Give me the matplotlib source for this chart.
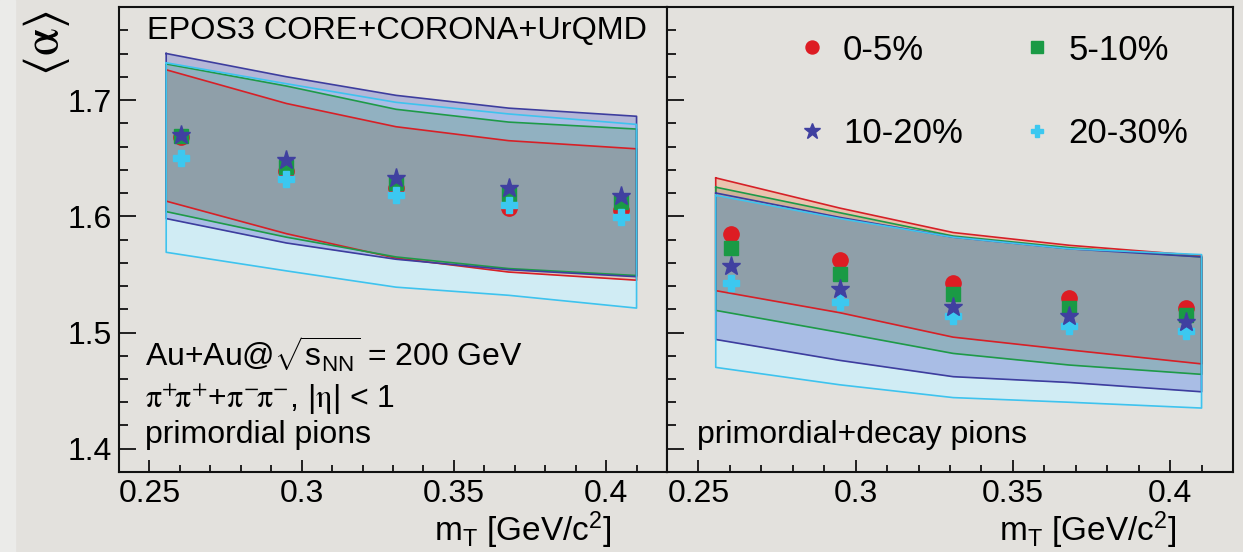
import numpy as np
import matplotlib.pyplot as plt
from matplotlib.lines import Line2D
from matplotlib.patches import Rectangle

plt.rcParams['font.family'] = ['Liberation Sans', 'DejaVu Sans']
plt.rcParams['mathtext.fontset'] = 'custom'
plt.rcParams['mathtext.rm'] = 'Liberation Sans'
plt.rcParams['mathtext.it'] = 'Liberation Sans:italic'

# ---- data ----
mt = [0.2605, 0.295, 0.331, 0.368, 0.405]          # marker positions
mt_band = [0.2555, 0.295, 0.331, 0.368, 0.41]       # band nodes
labels = ['0-5%', '5-10%', '10-20%', '20-30%']

# primordial pions (left)
a_L = {
    '0-5%':   [1.668, 1.639, 1.624, 1.607, 1.605],
    '5-10%':  [1.669, 1.642, 1.629, 1.619, 1.612],
    '10-20%': [1.670, 1.648, 1.633, 1.624, 1.617],
    '20-30%': [1.650, 1.632, 1.618, 1.610, 1.599],
}
up_L = {
    '0-5%':   [1.726, 1.697, 1.677, 1.665, 1.658],
    '5-10%':  [1.731, 1.712, 1.692, 1.681, 1.675],
    '10-20%': [1.740, 1.720, 1.704, 1.693, 1.686],
    '20-30%': [1.732, 1.714, 1.698, 1.688, 1.679],
}
lo_L = {
    '0-5%':   [1.613, 1.585, 1.564, 1.552, 1.545],
    '5-10%':  [1.604, 1.582, 1.565, 1.555, 1.549],
    '10-20%': [1.598, 1.577, 1.563, 1.554, 1.548],
    '20-30%': [1.569, 1.553, 1.539, 1.532, 1.521],
}

# primordial + decay pions (right)
a_R = {
    '0-5%':   [1.585, 1.562, 1.543, 1.530, 1.521],
    '5-10%':  [1.573, 1.550, 1.533, 1.521, 1.515],
    '10-20%': [1.557, 1.537, 1.522, 1.514, 1.509],
    '20-30%': [1.543, 1.526, 1.514, 1.506, 1.501],
}
up_R = {
    '0-5%':   [1.633, 1.607, 1.586, 1.575, 1.566],
    '5-10%':  [1.625, 1.603, 1.583, 1.573, 1.565],
    '10-20%': [1.620, 1.599, 1.582, 1.572, 1.565],
    '20-30%': [1.618, 1.598, 1.582, 1.572, 1.567],
}
lo_R = {
    '0-5%':   [1.536, 1.517, 1.496, 1.485, 1.473],
    '5-10%':  [1.519, 1.500, 1.482, 1.472, 1.464],
    '10-20%': [1.494, 1.476, 1.462, 1.457, 1.449],
    '20-30%': [1.470, 1.455, 1.444, 1.440, 1.435],
}

xticks = [0.25, 0.3, 0.35, 0.4]
xtick_labels = ['0.25', '0.3', '0.35', '0.4']
yticks = [1.4, 1.5, 1.6, 1.7]
ytick_labels = ['1.4', '1.5', '1.6', '1.7']

# ---- styles ----
bg = '#e3e1dd'
line_col = {'0-5%': '#d62027', '5-10%': '#1e9a48', '10-20%': '#3d3d9e', '20-30%': '#3ec3ee'}
fill_col = {'0-5%': (250/255, 140/255, 90/255), '5-10%': (90/255, 150/255, 110/255),
            '10-20%': (111/255, 120/255, 207/255), '20-30%': (200/255, 242/255, 255/255)}
fill_alpha = {'0-5%': 0.35, '5-10%': 0.3, '10-20%': 0.4, '20-30%': 0.7}
mk = {'0-5%': 'o', '5-10%': 's', '10-20%': '*', '20-30%': 'P'}
mk_size = {'0-5%': 11, '5-10%': 10, '10-20%': 14, '20-30%': 11}
mk_col = {'0-5%': '#dd1c23', '5-10%': '#1a9a45', '10-20%': '#4040a0', '20-30%': '#3cc8f0'}
fill_order = ['20-30%', '10-20%', '5-10%', '0-5%']
edge_order = ['0-5%', '5-10%', '10-20%', '20-30%']
marker_order = ['0-5%', '5-10%', '20-30%', '10-20%']

fs = 23
W, H = 1243, 552
fig = plt.figure(figsize=(W/100, H/100), dpi=100, facecolor=bg)
fig.patches.append(Rectangle((0, 0), 15/W, 1, transform=fig.transFigure,
                             color='#ebebe9', zorder=0))
axL = fig.add_axes([119/W, 80/H, 548/W, 465/H])
axR = fig.add_axes([667/W, 80/H, 566/W, 465/H])


def draw_panel(ax, a, up, lo):
    ax.set_facecolor(bg)
    xb = np.array(mt_band)
    for k in fill_order:
        ax.fill_between(xb, lo[k], up[k], color=fill_col[k], alpha=fill_alpha[k], lw=0, zorder=1)
    # region where all four bands overlap
    lo_all = np.max([lo[k] for k in labels], axis=0)
    up_all = np.min([up[k] for k in labels], axis=0)
    ax.fill_between(xb, lo_all, up_all, color='#8f9fa9', lw=0, zorder=2)
    for k in edge_order:
        px = np.concatenate([xb, xb[::-1], xb[:1]])
        py = np.concatenate([up[k], lo[k][::-1], up[k][:1]])
        ax.plot(px, py, color=line_col[k], lw=1.2, zorder=3)
    for k in marker_order:
        ax.plot(mt, a[k], ls='none', marker=mk[k], ms=mk_size[k], color=mk_col[k],
                mec=mk_col[k], zorder=4)

    ax.set_xlim(0.24, 0.42)
    ax.set_ylim(1.38, 1.78)
    ax.set_xticks(xticks)
    ax.set_xticks(np.arange(0.24, 0.4201, 0.01), minor=True)
    ax.set_yticks(yticks)
    ax.set_yticks(np.arange(1.38, 1.7801, 0.02), minor=True)
    ax.set_xticklabels(xtick_labels, fontsize=fs)
    ax.tick_params(axis='both', which='both', direction='in', top=False, right=False)
    ax.tick_params(axis='x', which='major', length=9, width=1.2, pad=5)
    ax.tick_params(axis='x', which='minor', length=5, width=1.2)
    ax.tick_params(axis='y', which='major', length=12, width=1.2, pad=5)
    ax.tick_params(axis='y', which='minor', length=6.5, width=1.2)
    for s in ax.spines.values():
        s.set_linewidth(1.5)
        s.set_color('#111111')
    ax.text(0.9, -0.148, r'm$_{\mathrm{T}}$ [GeV/c$^{2}$]', transform=ax.transAxes,
            ha='right', va='baseline', fontsize=24)


draw_panel(axL, a_L, up_L, lo_L)
draw_panel(axR, a_R, up_R, lo_R)

axL.set_yticklabels(ytick_labels, fontsize=fs)
axR.set_yticklabels([])

axL.text(0.051, 0.931, 'EPOS3 CORE+CORONA+UrQMD', transform=axL.transAxes,
         fontsize=23.3, va='baseline')
axL.text(0.047, 0.226, r'Au+Au@$\sqrt{\mathrm{s}_{\mathrm{NN}}}$ = 200 GeV',
         transform=axL.transAxes, fontsize=fs, va='baseline')
axL.text(0.047, 0.138, r'$\mathrm{\pi^{+}\!\pi^{+}}$+$\mathrm{\pi^{-}\!\pi^{-}}$, |$\mathrm{\eta}$| < 1',
         transform=axL.transAxes, fontsize=fs, va='baseline', math_fontfamily='stix')
axL.text(0.047, 0.062, 'primordial pions', transform=axL.transAxes,
         fontsize=fs, va='baseline')
axR.text(0.053, 0.062, 'primordial+decay pions', transform=axR.transAxes,
         fontsize=fs, va='baseline')

fig.text(47/W, 1 - 43/H, r'$\langle\mathrm{\alpha}\rangle$', rotation=90, ha='center',
         va='center', fontsize=36, math_fontfamily='stix')

# legend: two columns, rows (0-5%, 5-10%) and (10-20%, 20-30%)
leg_order = ['0-5%', '10-20%', '5-10%', '20-30%']
handles = [Line2D([], [], ls='none', marker=mk[k], ms=mk_size[k] * 0.85,
                  color=mk_col[k]) for k in leg_order]
axR.legend(handles, leg_order, ncol=2, loc='upper left', bbox_to_anchor=(0.176, 1.01),
           frameon=False, fontsize=25, handlelength=0.8, handletextpad=0.5,
           columnspacing=1.74, labelspacing=1.45)

fig.savefig('out.png', dpi=100, facecolor=bg)
